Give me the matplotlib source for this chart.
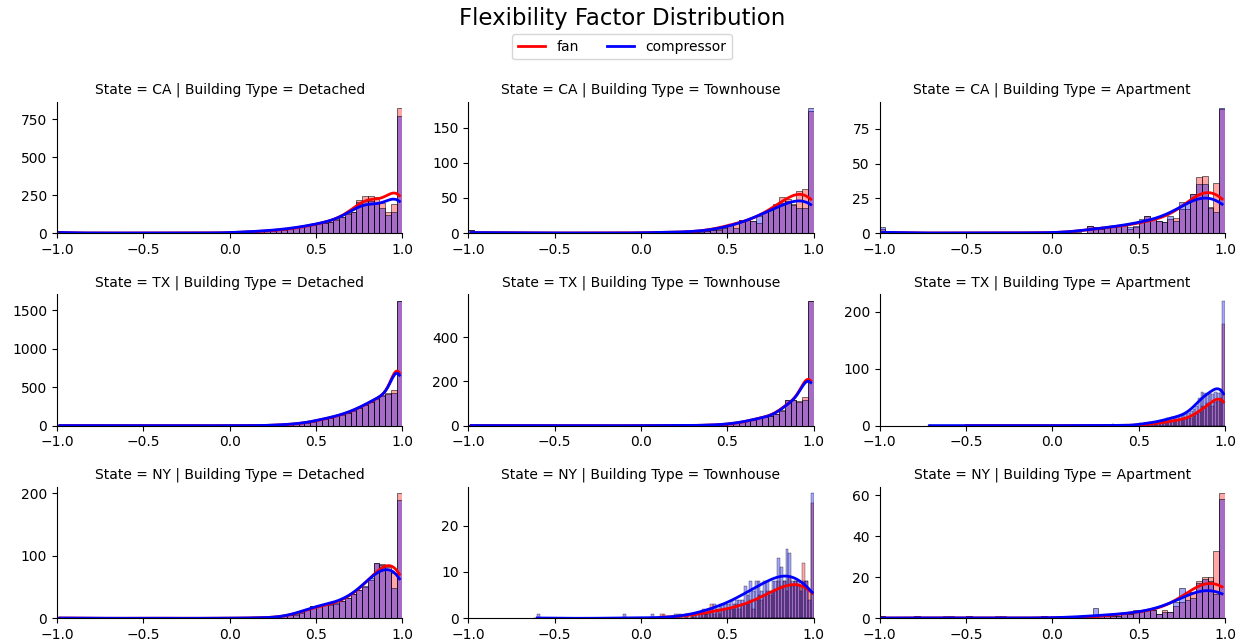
import numpy as np
import matplotlib
matplotlib.use("Agg")
import matplotlib.pyplot as plt
import seaborn as sns
from matplotlib.lines import Line2D

states = ["CA", "TX", "NY"]
building_types = ["Detached", "Townhouse", "Apartment"]
hues = ["fan", "compressor"]
hue_colors = {"fan": "red", "compressor": "blue"}

# bin layout of each facet: (low edge, high edge, number of bins)
bin_specs = {
    ("CA", "Detached"): (-1.0, 1.0, 60),
    ("CA", "Townhouse"): (-1.0, 1.0, 60),
    ("CA", "Apartment"): (-1.0, 1.0, 60),
    ("TX", "Detached"): (-1.0, 1.0, 60),
    ("TX", "Townhouse"): (-1.0, 1.0, 60),
    ("TX", "Apartment"): (-0.72, 1.0, 110),
    ("NY", "Detached"): (-1.0, 1.0, 60),
    ("NY", "Townhouse"): (-0.62, 1.0, 100),
    ("NY", "Apartment"): (-1.0, 1.0, 60),
}

# counts of the last bins of each facet (left to right)
ca_det_fan = [4, 5, 6, 7, 9, 11, 13, 16, 19, 23, 27, 32, 38, 45, 53,
              64, 69, 75, 90, 108, 130, 141, 215, 245, 245, 240, 200, 140, 190, 825]
ca_det_comp = [5, 6, 7, 9, 11, 13, 15, 18, 22, 26, 30, 35, 41, 48, 56,
               64, 69, 75, 88, 106, 128, 140, 205, 212, 212, 197, 164, 120, 140, 770]
ca_th_fan = [2, 2, 3, 5, 6, 8, 12, 14, 18, 18, 17, 14, 30, 33, 42, 52, 49, 42, 60, 62, 173]
ca_th_comp = [2, 3, 3, 4, 5, 7, 12, 7, 18, 18, 17, 24, 30, 33, 38, 43, 45, 40, 35, 36, 178]
ca_apt_fan = [5, 4, 3, 4, 4, 5, 6, 3, 4, 9, 12, 10, 9, 8, 10, 11, 17, 17, 28, 40, 41, 19, 36, 89]
ca_apt_comp = [5, 4, 3, 4, 4, 5, 6, 4, 5, 10, 12, 10, 9, 8, 12, 9, 22, 22, 28, 35, 35, 18, 15, 90]
tx_det_fan = [4, 6, 8, 12, 17, 23, 31, 41, 54, 72, 87, 102, 122, 142, 167, 197,
              232, 267, 307, 352, 392, 420, 460, 1625]
tx_det_comp = [5, 7, 10, 14, 19, 25, 33, 43, 57, 76, 91, 106, 126, 146, 171, 200,
               236, 272, 312, 357, 395, 410, 430, 1615]
tx_th_fan = [1, 2, 2, 3, 4, 5, 8, 11, 15, 20, 26, 36, 39, 44, 53, 72, 116, 114, 110, 132, 566]
tx_th_comp = [1, 2, 3, 3, 4, 6, 9, 12, 16, 21, 27, 35, 38, 43, 51, 68, 114, 116, 108, 115, 566]
tx_apt_fan = [2, 2, 3, 2, 3, 3, 4, 4, 5, 5, 8, 7, 9, 9, 10, 10, 11, 12, 13, 14,
              17, 20, 24, 34, 32, 40, 38, 34, 42, 44, 48, 178]
tx_apt_comp = [4, 3, 5, 4, 6, 5, 6, 7, 8, 9, 14, 12, 15, 14, 16, 17, 18, 20, 22, 25,
               30, 35, 48, 60, 58, 55, 58, 56, 60, 58, 65, 220]
ny_det_fan = [2, 3, 5, 6, 9, 14, 19, 20, 21, 21, 23, 27, 33, 39, 45, 50, 62, 88, 87, 82, 72, 200]
ny_det_comp = [2, 3, 5, 7, 10, 15, 20, 21, 22, 23, 25, 28, 33, 39, 46, 52, 64, 88, 86, 78, 48, 190]
ny_th_fan = [0, 1, 0, 0, 1, 0, 1, 1, 0, 1, 1, 1, 1, 3, 1, 2, 1, 2, 2, 2, 2, 2, 3, 2, 3,
             3, 3, 4, 2, 4, 5, 4, 5, 6, 5, 6, 6, 8, 7, 8, 6, 9, 7, 8, 7, 7, 12, 8, 6, 25]
ny_th_comp = [1, 0, 1, 0, 1, 0, 1, 1, 1, 1, 2, 1, 2, 2, 3, 2, 3, 3, 3, 3, 4, 3, 4, 4, 4,
              7, 5, 8, 6, 8, 8, 6, 8, 8, 6, 8, 8, 13, 11, 8, 15, 14, 8, 8, 8, 6, 8, 8, 4, 27]
ny_apt_fan = [1, 2, 1, 1, 1, 2, 2, 4, 4, 4, 4, 2, 4, 3, 6, 8, 13, 13, 18, 20, 20, 33, 61]
ny_apt_comp = [5, 2, 1, 1, 1, 2, 2, 3, 4, 4, 4, 2, 3, 3, 8, 15, 9, 10, 17, 19, 18, 12, 58]

# scattered low values: (flexibility factor, count)
ca_det_fan_low = [(-0.983, 14), (-0.75, 2), (-0.5, 2), (-0.25, 3), (-0.1, 3)]
ca_det_comp_low = [(-0.983, 16), (-0.8, 2), (-0.55, 2), (-0.3, 3), (-0.12, 3)]
ca_th_fan_low = [(-0.983, 4), (-0.8, 2), (-0.7, 2), (-0.33, 1), (0.05, 1), (0.1, 2), (0.17, 2), (0.25, 3)]
ca_th_comp_low = [(-0.983, 5), (-0.78, 2), (-0.68, 1), (-0.3, 1), (0.08, 2), (0.13, 2), (0.2, 2), (0.27, 3)]
ca_apt_fan_low = [(-0.983, 3), (-0.45, 1), (-0.15, 1), (0.05, 1), (0.12, 1)]
ca_apt_comp_low = [(-0.983, 4), (-0.45, 1), (-0.15, 1), (0.08, 1), (0.15, 1)]
tx_det_fan_low = [(-0.983, 3), (-0.5, 2), (-0.2, 3), (0.05, 4)]
tx_det_comp_low = [(-0.983, 4), (-0.6, 2), (-0.3, 3), (0.0, 4), (0.12, 4)]
tx_th_fan_low = [(-0.983, 2), (-0.4, 1), (0.1, 1), (0.2, 2)]
tx_th_comp_low = [(-0.983, 2), (-0.6, 1), (0.0, 1), (0.22, 2)]
tx_apt_fan_low = [(-0.5, 1), (0.1, 1), (0.36, 2), (0.45, 2)]
tx_apt_comp_low = [(-0.71, 1), (-0.3, 1), (0.0, 1), (0.2, 1), (0.35, 3), (0.45, 2)]
ny_det_fan_low = [(-0.983, 2), (-0.9, 1), (-0.4, 1), (0.0, 1), (0.15, 2), (0.22, 2)]
ny_det_comp_low = [(-0.983, 2), (-0.85, 1), (-0.5, 1), (-0.05, 1), (0.12, 2), (0.2, 2)]
ny_th_fan_low = [(0.12, 1), (0.14, 1)]
ny_th_comp_low = [(-0.6, 1), (-0.1, 1), (0.07, 1)]
ny_apt_fan_low = [(-0.983, 1), (-0.8, 1), (-0.63, 1), (-0.5, 1), (-0.33, 1), (-0.05, 1), (0.05, 1)]
ny_apt_comp_low = [(-0.983, 1), (-0.8, 1), (-0.6, 1), (-0.47, 1), (-0.3, 1), (-0.05, 1), (0.05, 1)]

tails = {
    ("CA", "Detached"): (ca_det_fan, ca_det_comp, ca_det_fan_low, ca_det_comp_low),
    ("CA", "Townhouse"): (ca_th_fan, ca_th_comp, ca_th_fan_low, ca_th_comp_low),
    ("CA", "Apartment"): (ca_apt_fan, ca_apt_comp, ca_apt_fan_low, ca_apt_comp_low),
    ("TX", "Detached"): (tx_det_fan, tx_det_comp, tx_det_fan_low, tx_det_comp_low),
    ("TX", "Townhouse"): (tx_th_fan, tx_th_comp, tx_th_fan_low, tx_th_comp_low),
    ("TX", "Apartment"): (tx_apt_fan, tx_apt_comp, tx_apt_fan_low, tx_apt_comp_low),
    ("NY", "Detached"): (ny_det_fan, ny_det_comp, ny_det_fan_low, ny_det_comp_low),
    ("NY", "Townhouse"): (ny_th_fan, ny_th_comp, ny_th_fan_low, ny_th_comp_low),
    ("NY", "Apartment"): (ny_apt_fan, ny_apt_comp, ny_apt_fan_low, ny_apt_comp_low),
}


def to_samples(edges, tail, low):
    # one observation per counted house, placed at its bin centre
    centers = (edges[:-1] + edges[1:]) / 2
    x = list(centers[len(centers) - len(tail):]) + [v for v, c in low]
    n = list(tail) + [c for v, c in low]
    return np.repeat(np.array(x), np.array(n, dtype=int))


fig, axes = plt.subplots(3, 3, figsize=(12.44, 6.43), dpi=100)
fig.subplots_adjust(left=0.0458, right=0.9847, bottom=0.0384, top=0.8418,
                    wspace=0.191, hspace=0.467)

for i, state in enumerate(states):
    for j, btype in enumerate(building_types):
        ax = axes[i, j]
        lo, hi, n = bin_specs[(state, btype)]
        edges = np.linspace(lo, hi, n + 1)
        fan_tail, comp_tail, fan_low, comp_low = tails[(state, btype)]
        for hue, tail, low in [("fan", fan_tail, fan_low), ("compressor", comp_tail, comp_low)]:
            x = to_samples(edges, tail, low)
            sns.histplot(x=x, bins=edges.tolist(), kde=True, color=hue_colors[hue],
                         alpha=0.35, line_kws={"lw": 2}, kde_kws={"bw_adjust": 1.35}, ax=ax)
        ax.set_xlim(-1, 1)
        ax.set_xticks([-1.0, -0.5, 0.0, 0.5, 1.0])
        ax.set_xlabel("")
        ax.set_ylabel("")
        ax.set_title(f"State = {state} | Building Type = {btype}", fontsize=10)
        sns.despine(ax=ax)

fig.text(0.5, 0.972, "Flexibility Factor Distribution", ha="center", va="center", fontsize=16.5)
handles = [Line2D([], [], color=hue_colors[h], lw=2) for h in hues]
fig.legend(handles, hues, loc="center", bbox_to_anchor=(0.5, 0.927), ncol=2)

fig.savefig("out.png", dpi=100)
